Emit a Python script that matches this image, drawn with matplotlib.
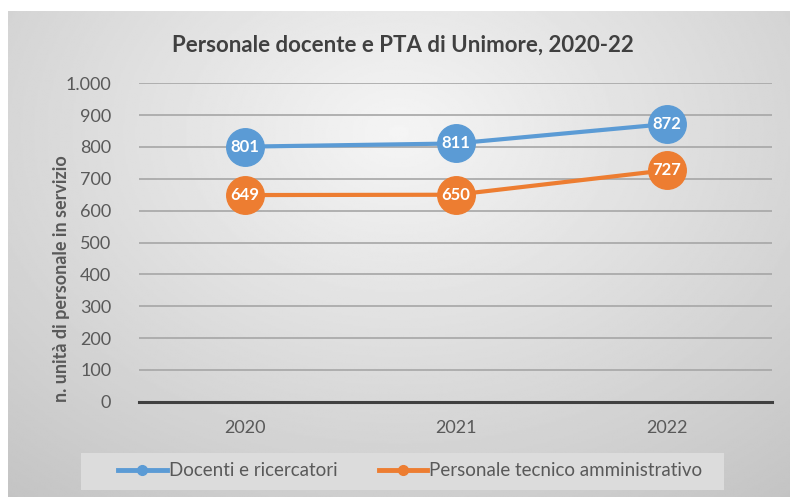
import matplotlib
matplotlib.use('Agg')
import matplotlib.pyplot as plt
from matplotlib.patches import Rectangle
import numpy as np

plt.rcParams['font.family'] = ['Lato', 'DejaVu Sans']

years = ['2020', '2021', '2022']
docenti = [801, 811, 872]
pta = [649, 650, 727]
series_names = ['Docenti e ricercatori', 'Personale tecnico amministrativo']
yticks = [0, 100, 200, 300, 400, 500, 600, 700, 800, 900, 1000]
ytick_labels = ['0', '100', '200', '300', '400', '500', '600', '700', '800', '900', '1.000']

blue = '#5B9BD5'
orange = '#ED7D31'
text_col = '#595959'

W, H = 790, 497
fig = plt.figure(figsize=(W / 100, H / 100), dpi=100)
fig.patch.set_facecolor('white')

# gray radial gradient background of the chart area
bg = fig.add_axes([8 / W, 0, (W - 8) / W, (H - 11) / H])
yy, xx = np.mgrid[0:1:300j, 0:1:500j]
r = np.sqrt(((xx - 0.5) / 0.75) ** 2 + ((yy - 0.25) / 0.9) ** 2)
shade = 0.96 - 0.18 * np.clip(r, 0, 1.2)
bg.imshow(shade, cmap='gray', vmin=0, vmax=1, aspect='auto', extent=(0, 1, 0, 1), origin='upper')
bg.set_xlim(0, 1)
bg.set_ylim(0, 1)
bg.axis('off')

ax = fig.add_axes([139 / W, (H - 401.7) / H, (772 - 139) / W, (401.7 - 83.3) / H])
ax.set_facecolor('none')
x = np.arange(len(years))

for vals, col, name in [(docenti, blue, series_names[0]), (pta, orange, series_names[1])]:
    ax.plot(x, vals, color=col, lw=3, marker='o', markersize=27, zorder=3, clip_on=False, label=name)
    for xi, v in zip(x, vals):
        ax.text(xi, v, str(v), color='white', fontsize=12, fontweight='bold',
                ha='center', va='center', zorder=4)

ax.set_xlim(-0.5, 2.5)
ax.set_ylim(0, 1000)
ax.set_yticks(yticks)
ax.set_yticklabels(ytick_labels)
ax.set_xticks(x)
ax.set_xticklabels(years)
ax.tick_params(length=0, colors=text_col, labelsize=13)
ax.tick_params(axis='y', pad=20)
ax.tick_params(axis='x', pad=13)
ax.grid(axis='y', color='#a6a6a6', lw=1.2)
ax.set_axisbelow(True)
for s in ['top', 'right', 'left']:
    ax.spines[s].set_visible(False)
ax.spines['bottom'].set_color('#404040')
ax.spines['bottom'].set_linewidth(2.2)
ax.spines['bottom'].set_zorder(2)

fig.text(62 / W, 1 - 279 / H, 'n. unità di personale in servizio', rotation=90,
         ha='center', va='center', fontsize=13, fontweight='bold', color=text_col)
fig.text(403 / W, 1 - 45 / H, 'Personale docente e PTA di Unimore, 2020-22',
         ha='center', va='center', fontsize=16, fontweight='bold', color='#404040')

# legend box
fig.patches.append(Rectangle((81 / W, 7 / H), 643 / W, 37 / H, transform=fig.transFigure,
                             facecolor='#dcdcdc', edgecolor='none', zorder=1))
handles = [plt.Line2D([], [], color=blue, lw=3.5, marker='o', markersize=7),
           plt.Line2D([], [], color=orange, lw=3.5, marker='o', markersize=7)]
leg = fig.legend(handles, series_names, loc='center left', ncol=2,
                 bbox_to_anchor=(118 / W, 1 - 471 / H), frameon=False,
                 handlelength=2.6, handletextpad=0.1, columnspacing=2.2, fontsize=13.5,
                 borderaxespad=0, borderpad=0)
for t in leg.get_texts():
    t.set_color(text_col)

fig.savefig('out.png', dpi=100)
